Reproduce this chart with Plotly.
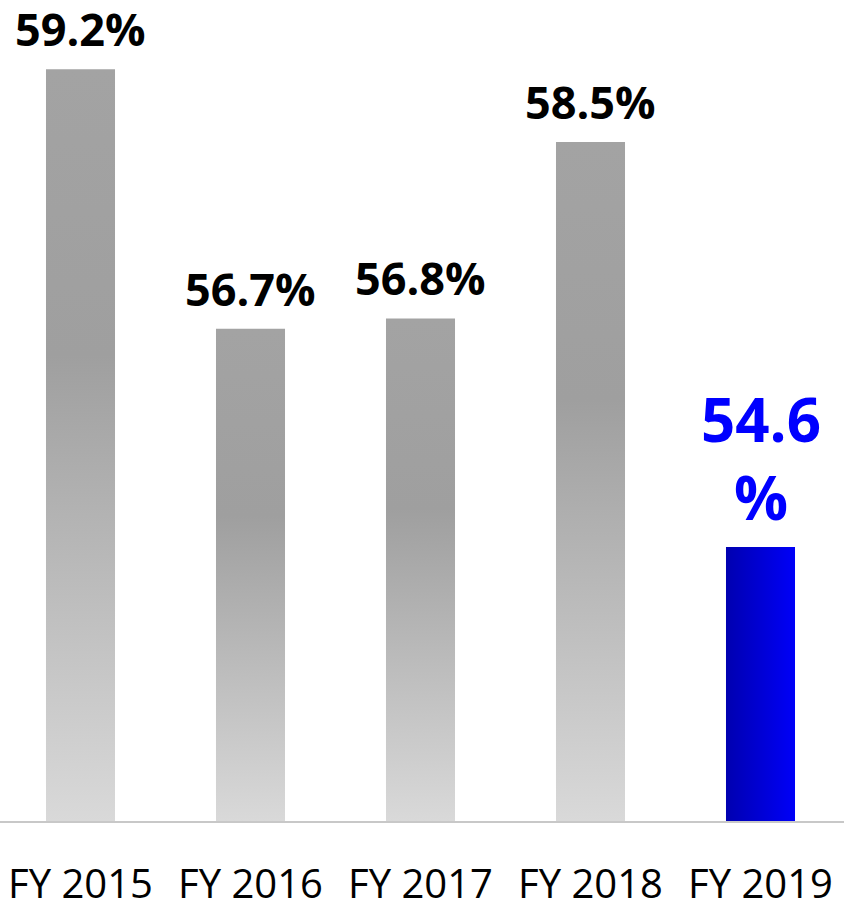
import plotly.graph_objects as go

# Fiscal-year ratios
years = ["FY 2015", "FY 2016", "FY 2017", "FY 2018", "FY 2019"]
values = [59.2, 56.7, 56.8, 58.5, 54.6]
labels = ["59.2%", "56.7%", "56.8%", "58.5%", "54.6<br>%"]

Y_MIN = 51.96
Y_MAX = 59.867
BAR_W = 0.406

GRAY_SCALE = [[0.0, "#d9d9d9"], [0.62, "#9f9f9f"], [1.0, "#a3a3a3"]]
BLUE_SCALE = [[0.0, "#0000b0"], [1.0, "#0000f8"]]

fig = go.Figure()

for i, (yr, v) in enumerate(zip(years, values)):
    x0, x1 = i - BAR_W / 2, i + BAR_W / 2
    highlight = i == len(values) - 1
    if highlight:
        grad = dict(type="horizontal", colorscale=BLUE_SCALE, start=x0, stop=x1)
    else:
        grad = dict(type="vertical", colorscale=GRAY_SCALE, start=Y_MIN, stop=v)
    fig.add_trace(go.Scatter(
        x=[x0, x1, x1, x0, x0],
        y=[Y_MIN, Y_MIN, v, v, Y_MIN],
        mode="lines",
        line=dict(width=0),
        fill="toself",
        fillgradient=grad,
        hoverinfo="skip",
        showlegend=False,
    ))
    fig.add_annotation(
        x=i, y=v, text="<b>" + labels[i] + "</b>",
        showarrow=False, xanchor="center", yanchor="bottom",
        yshift=8 if not highlight else 7,
        font=dict(family="Open Sans", size=45 if not highlight else 60,
                  color="#0000ff" if highlight else "#000000"),
    )

fig.update_layout(
    width=844, height=902,
    margin=dict(l=0, r=0, t=0, b=81),
    paper_bgcolor="white", plot_bgcolor="white",
    xaxis=dict(
        range=[-0.4735, 4.4912],
        tickmode="array", tickvals=list(range(len(years))), ticktext=years,
        showgrid=False, zeroline=False,
        showline=True, linecolor="#c8c8c8", linewidth=1.5,
        ticks="", ticklabelstandoff=27, automargin=False,
        tickfont=dict(family="Open Sans", size=40, color="#000000"),
        fixedrange=True,
    ),
    yaxis=dict(range=[Y_MIN, Y_MAX], visible=False, fixedrange=True,
               automargin=False),
)

fig.write_html("out.html")
